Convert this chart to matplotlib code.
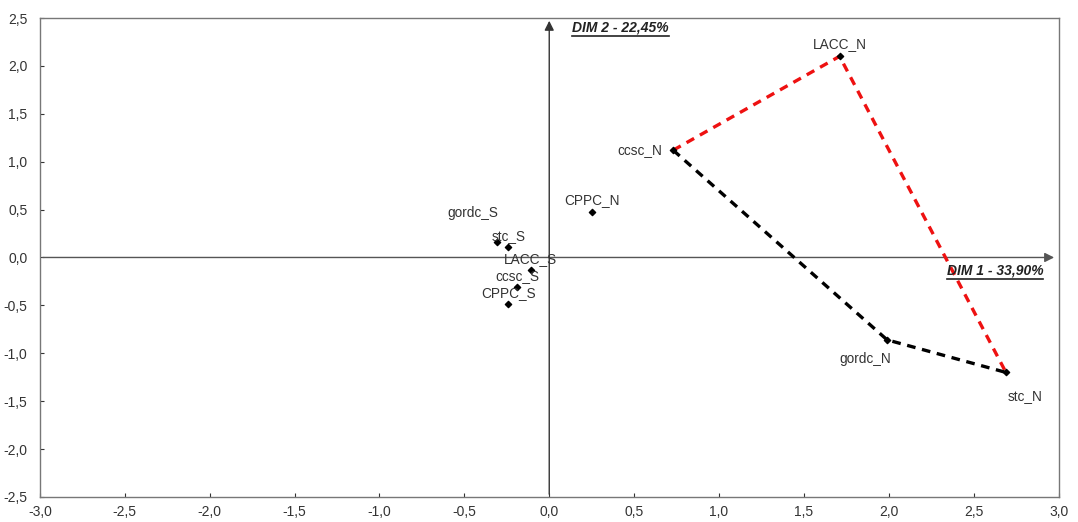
import matplotlib
matplotlib.use("Agg")
import matplotlib.pyplot as plt
from matplotlib.lines import Line2D

plt.rcParams['font.family'] = ['Liberation Sans', 'DejaVu Sans']

names = ["LACC_N", "ccsc_N", "CPPC_N", "gordc_N", "stc_N",
         "gordc_S", "stc_S", "LACC_S", "ccsc_S", "CPPC_S"]
dim1 = [1.71, 0.73, 0.25, 1.99, 2.69, -0.31, -0.24, -0.11, -0.19, -0.24]
dim2 = [2.10, 1.12, 0.47, -0.86, -1.20, 0.16, 0.11, -0.13, -0.31, -0.49]
# label offsets in points (dx, dy) and alignment
label_pos = {
    "LACC_N": (0, 4, "center", "bottom"), "ccsc_N": (-8, 0, "right", "center"),
    "CPPC_N": (0, 4, "center", "bottom"),
    "gordc_N": (-16, -9, "center", "top"), "stc_N": (14, -12, "center", "top"),
    "gordc_S": (-17, 16, "center", "bottom"), "stc_S": (0, 3, "center", "bottom"),
    "LACC_S": (0, 3, "center", "bottom"), "ccsc_S": (0, 3, "center", "bottom"),
    "CPPC_S": (0, 3, "center", "bottom"),
}
red_path = ["ccsc_N", "LACC_N", "stc_N"]
black_path = ["ccsc_N", "gordc_N", "stc_N"]
xticks = [-3.0, -2.5, -2.0, -1.5, -1.0, -0.5, 0.0, 0.5, 1.0, 1.5, 2.0, 2.5, 3.0]
yticks = [-2.5, -2.0, -1.5, -1.0, -0.5, 0.0, 0.5, 1.0, 1.5, 2.0, 2.5]
dim1_label = "DIM 1 - 33,90%"
dim2_label = "DIM 2 - 22,45%"

fig = plt.figure(figsize=(10.78, 5.22), dpi=100)
ax = fig.add_axes([0.037, 0.048, 0.945, 0.9175])
ax.set_xlim(-3, 3)
ax.set_ylim(-2.5, 2.5)
ax.set_xticks(xticks)
ax.set_yticks(yticks)
fmt = lambda v: f"{v:.1f}".replace(".", ",")
ax.set_xticklabels([fmt(v) for v in xticks])
ax.set_yticklabels([fmt(v) for v in yticks])
ax.tick_params(direction="in", length=3, labelsize=10, colors="#333333")
ax.tick_params(axis="x", pad=6)
ax.tick_params(axis="y", pad=9)
for s in ax.spines.values():
    s.set_color("#777777")
    s.set_linewidth(1.0)

# axes arrows
ax.annotate("", xy=(2.99, 0), xytext=(-3, 0),
            arrowprops=dict(arrowstyle="-|>", color="#555555", lw=1.0, mutation_scale=14))
ax.annotate("", xy=(0, 2.5), xytext=(0, -2.5),
            arrowprops=dict(arrowstyle="-|>", color="#333333", lw=1.0, mutation_scale=14))

idx = {n: i for i, n in enumerate(names)}
ax.plot([dim1[idx[n]] for n in red_path], [dim2[idx[n]] for n in red_path],
        ls=(0, (2.6, 2.0)), color="#ee1111", lw=2.4, zorder=3)
ax.plot([dim1[idx[n]] for n in black_path], [dim2[idx[n]] for n in black_path],
        ls=(0, (2.6, 2.0)), color="black", lw=2.4, zorder=3)
ax.scatter(dim1, dim2, marker="D", s=10, color="black", zorder=4)

for n, x, y in zip(names, dim1, dim2):
    dx, dy, ha, va = label_pos[n]
    ax.annotate(n, (x, y), xytext=(dx, dy), textcoords="offset points",
                ha=ha, va=va, fontsize=9.8, color="#333333", zorder=5)

t1 = ax.text(2.34, -0.21, dim1_label, fontsize=10, fontweight="bold", style="italic",
             color="#222222", va="bottom")
t2 = ax.text(0.135, 2.33, dim2_label, fontsize=10, fontweight="bold", style="italic",
             color="#222222", va="bottom")
fig.canvas.draw()
r = fig.canvas.get_renderer()
for t in (t1, t2):
    bb = t.get_window_extent(r).transformed(fig.transFigure.inverted())
    fig.add_artist(Line2D([bb.x0, bb.x1], [bb.y0 - 0.003, bb.y0 - 0.003],
                          transform=fig.transFigure, color="#222222", lw=1.2))

fig.savefig("out.png", dpi=100)
